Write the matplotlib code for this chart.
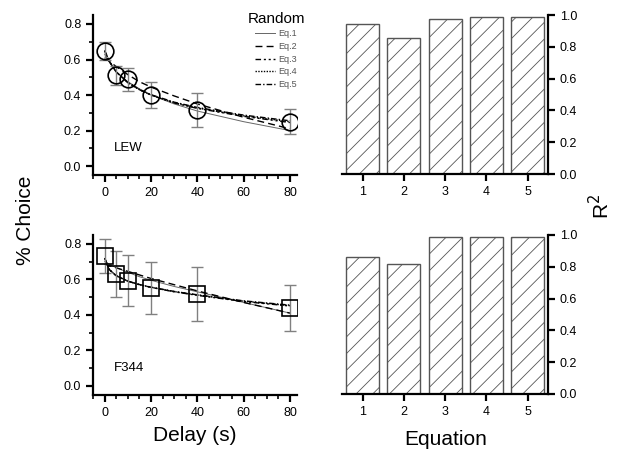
import matplotlib
matplotlib.use("Agg")
import matplotlib.pyplot as plt
from matplotlib.ticker import MultipleLocator

plt.rcParams["font.family"] = ["Liberation Sans", "DejaVu Sans"]

# observed choice data
DELAYS = [0, 5, 10, 20, 40, 80]
LEW_MEAN = [0.65, 0.51, 0.49, 0.40, 0.315, 0.25]
LEW_ERR = [0.05, 0.055, 0.065, 0.075, 0.095, 0.07]
F344_MEAN = [0.73, 0.63, 0.593, 0.552, 0.518, 0.438]
F344_ERR = [0.095, 0.13, 0.145, 0.145, 0.15, 0.13]

# fitted curves
CURVE_X = [0, 2, 5, 10, 15, 20, 30, 40, 60, 80]
LEW_FITS = {
    "Eq.1": [0.63, 0.585, 0.53, 0.475, 0.435, 0.40, 0.35, 0.31, 0.25, 0.20],
    "Eq.2": [0.61, 0.59, 0.56, 0.515, 0.475, 0.445, 0.395, 0.35, 0.275, 0.21],
    "Eq.3": [0.65, 0.59, 0.53, 0.47, 0.43, 0.40, 0.355, 0.325, 0.28, 0.245],
    "Eq.4": [0.65, 0.59, 0.53, 0.47, 0.43, 0.40, 0.357, 0.327, 0.283, 0.25],
    "Eq.5": [0.65, 0.59, 0.53, 0.47, 0.432, 0.402, 0.36, 0.33, 0.287, 0.255],
}
F344_FITS = {
    "Eq.1": [0.70, 0.685, 0.665, 0.64, 0.615, 0.595, 0.56, 0.53, 0.47, 0.41],
    "Eq.2": [0.685, 0.677, 0.665, 0.645, 0.625, 0.605, 0.57, 0.535, 0.47, 0.41],
    "Eq.3": [0.72, 0.655, 0.62, 0.59, 0.57, 0.555, 0.53, 0.51, 0.475, 0.45],
    "Eq.4": [0.72, 0.655, 0.62, 0.59, 0.57, 0.555, 0.531, 0.512, 0.477, 0.452],
    "Eq.5": [0.72, 0.655, 0.62, 0.59, 0.571, 0.556, 0.532, 0.513, 0.479, 0.455],
}

EQUATIONS = [1, 2, 3, 4, 5]
LEW_R2 = [0.943, 0.855, 0.975, 0.987, 0.987]
F344_R2 = [0.86, 0.815, 0.985, 0.99, 0.99]

FIT_STYLES = {
    "Eq.1": dict(color="#666666", lw=0.7, linestyle="-"),
    "Eq.2": dict(color="black", lw=1.0, linestyle=(0, (5, 3))),
    "Eq.3": dict(color="black", lw=1.0, linestyle=(0, (4, 2, 1.5, 2, 1.5, 2))),
    "Eq.4": dict(color="black", lw=1.0, linestyle=(0, (1, 1))),
    "Eq.5": dict(color="black", lw=1.0, linestyle=(0, (4, 1.5, 1, 1.5))),
}


def style_left(ax):
    ax.spines["top"].set_visible(False)
    ax.spines["right"].set_visible(False)
    for s in ("left", "bottom"):
        ax.spines[s].set_linewidth(1.6)
    ax.set_xlim(-5, 83)
    ax.set_ylim(-0.05, 0.85)
    ax.xaxis.set_major_locator(MultipleLocator(20))
    ax.xaxis.set_minor_locator(MultipleLocator(5))
    ax.yaxis.set_major_locator(MultipleLocator(0.2))
    ax.yaxis.set_minor_locator(MultipleLocator(0.1))
    ax.yaxis.set_major_formatter(matplotlib.ticker.FormatStrFormatter("%.1f"))
    ax.tick_params(which="major", direction="out", length=5, width=1.6, labelsize=9)
    ax.tick_params(which="minor", direction="out", length=3, width=1.2)


def style_bar(ax):
    for s in ("top", "left"):
        ax.spines[s].set_visible(False)
    for s in ("right", "bottom"):
        ax.spines[s].set_linewidth(1.6)
    ax.yaxis.tick_right()
    ax.set_xlim(0.5, 5.5)
    ax.set_ylim(0, 1.0)
    ax.set_xticks(EQUATIONS)
    ax.yaxis.set_major_locator(MultipleLocator(0.2))
    ax.yaxis.set_major_formatter(matplotlib.ticker.FormatStrFormatter("%.1f"))
    ax.tick_params(direction="out", length=5, width=1.6, labelsize=9)


def draw_choice(ax, mean, err, fits, marker, msize, label):
    for name, ys in fits.items():
        ax.plot(CURVE_X, ys, label=name, **FIT_STYLES[name])
    ax.errorbar(DELAYS, mean, yerr=err, fmt="none", ecolor="#808080",
                elinewidth=1.0, capsize=4.5, capthick=1.0)
    ax.plot(DELAYS, mean, linestyle="none", marker=marker, markersize=msize,
            markerfacecolor="none", markeredgecolor="black", markeredgewidth=1.2)
    ax.text(4, 0.1, label, fontsize=9.5, va="center")
    style_left(ax)


def draw_bars(ax, r2):
    ax.bar(EQUATIONS, r2, width=0.8, color="white", edgecolor="#555555",
           linewidth=1.0, hatch="//")
    style_bar(ax)


matplotlib.rcParams["hatch.color"] = "#666666"
matplotlib.rcParams["hatch.linewidth"] = 0.6

fig = plt.figure(figsize=(6.29, 4.58), dpi=100)

ax1 = fig.add_axes([0.148, 0.618, 0.324, 0.349])
ax2 = fig.add_axes([0.148, 0.138, 0.324, 0.349])
ax3 = fig.add_axes([0.544, 0.620, 0.3275, 0.347])
ax4 = fig.add_axes([0.544, 0.140, 0.3275, 0.347])

draw_choice(ax1, LEW_MEAN, LEW_ERR, LEW_FITS, "o", 12, "LEW")
draw_choice(ax2, F344_MEAN, F344_ERR, F344_FITS, "s", 11, "F344")
draw_bars(ax3, LEW_R2)
draw_bars(ax4, F344_R2)

leg = ax1.legend(title="Random", loc="upper right", bbox_to_anchor=(1.07, 1.06),
                 frameon=False, fontsize=6.5, title_fontsize=11,
                 handlelength=2.2, handletextpad=0.3, labelspacing=0.4,
                 borderpad=0.2)
for t in leg.get_texts():
    t.set_color("#555555")

fig.text(0.04, 0.52, "% Choice", rotation=90, fontsize=15, ha="center", va="center")
fig.text(0.31, 0.05, "Delay (s)", fontsize=15, ha="center", va="center")
fig.text(0.708, 0.04, "Equation", fontsize=15, ha="center", va="center")
fig.text(0.955, 0.55, "R$^2$", rotation=90, fontsize=15, ha="center", va="center")

fig.savefig("out.png", dpi=100)
